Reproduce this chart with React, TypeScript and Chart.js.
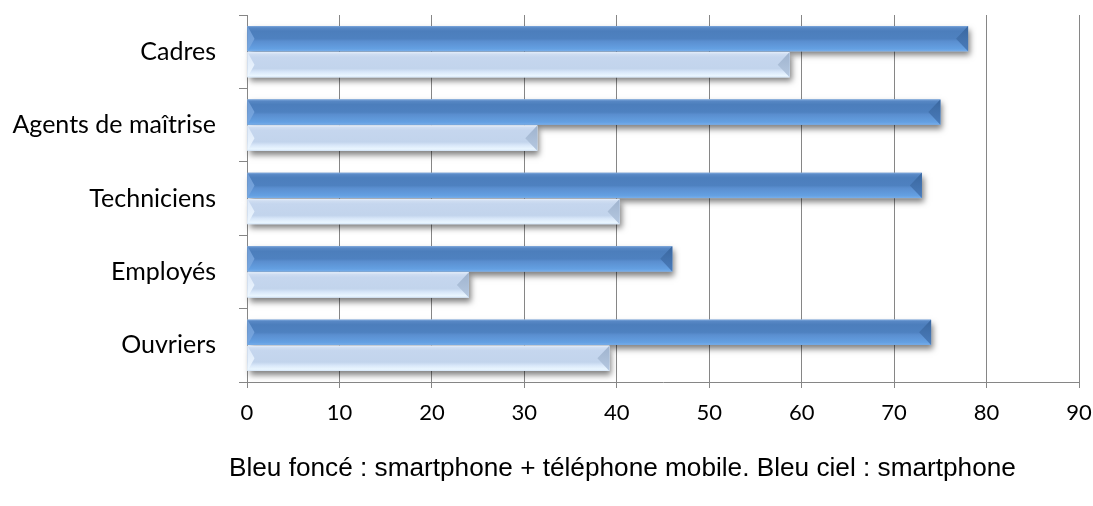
import React, { useEffect, useRef } from "react";
import { Chart, registerables } from "chart.js";

Chart.register(...registerables);

const categories = ["Cadres", "Agents de maîtrise", "Techniciens", "Employés", "Ouvriers"];
const smartphoneAndMobile = [78, 75, 73, 46, 74];
const smartphoneOnly = [58.7, 31.4, 40.3, 24, 39.2];
const xMin = 0;
const xMax = 90;
const xStep = 10;
const footnote = "Bleu foncé : smartphone + téléphone mobile. Bleu ciel : smartphone";

type BarStyle = {
  stops: [number, string][];
  endTop: string;
  endBottom: string;
  startTop: string;
  startBottom: string;
};

const barStyles: BarStyle[] = [
  {
    stops: [
      [0, "#7EA8DD"],
      [0.07, "#5787C4"],
      [0.2, "#4C7EBC"],
      [0.5, "#4E81C0"],
      [0.6, "#5A8ECF"],
      [0.9, "#64A0E2"],
      [1, "#78AEEA"],
    ],
    endTop: "#3A679F",
    endBottom: "#4A7CBB",
    startTop: "#6F9BD3",
    startBottom: "#78A8E2",
  },
  {
    stops: [
      [0, "#E6EFFB"],
      [0.08, "#CFDDF1"],
      [0.2, "#C5D6EE"],
      [0.65, "#C2D4EC"],
      [0.78, "#D8E7F9"],
      [0.93, "#EAF6FF"],
      [1, "#D5E6F8"],
    ],
    endTop: "#9FB3CE",
    endBottom: "#B5C8E0",
    startTop: "#DCE8F8",
    startBottom: "#EEF7FF",
  },
];

const shadowPlugin = {
  id: "barShadow",
  beforeDatasetsDraw(chart: any) {
    const ctx = chart.ctx as CanvasRenderingContext2D;
    ctx.save();
    chart.data.datasets.forEach((_: any, di: number) => {
      const meta = chart.getDatasetMeta(di);
      meta.data.forEach((el: any) => {
        const p = el.getProps(["x", "y", "base", "height"], true);
        const left = Math.min(p.x, p.base);
        const right = Math.max(p.x, p.base);
        const top = p.y - p.height / 2;
        ctx.shadowColor = "rgba(0,0,0,0.5)";
        ctx.shadowBlur = 6;
        ctx.shadowOffsetX = 2;
        ctx.shadowOffsetY = 4;
        ctx.fillStyle = "#ffffff";
        ctx.fillRect(left, top, right - left, p.height);
      });
    });
    ctx.restore();
  },
  afterDatasetsDraw(chart: any) {
    const ctx = chart.ctx as CanvasRenderingContext2D;
    ctx.save();
    chart.data.datasets.forEach((_: any, di: number) => {
      const st = barStyles[di];
      const meta = chart.getDatasetMeta(di);
      meta.data.forEach((el: any) => {
        const p = el.getProps(["x", "y", "base", "height"], true);
        const left = Math.min(p.x, p.base);
        const right = Math.max(p.x, p.base);
        const top = p.y - p.height / 2;
        const bottom = p.y + p.height / 2;
        const mid = p.y;
        const g = ctx.createLinearGradient(0, top, 0, bottom);
        st.stops.forEach(([o, c]) => g.addColorStop(o, c));
        ctx.fillStyle = g;
        ctx.fillRect(left, top, right - left, bottom - top);

        const b = 12;
        const ge = ctx.createLinearGradient(0, top, 0, bottom);
        ge.addColorStop(0, st.endTop);
        ge.addColorStop(1, st.endBottom);
        ctx.fillStyle = ge;
        ctx.beginPath();
        ctx.moveTo(right, top);
        ctx.lineTo(right - b, mid);
        ctx.lineTo(right, bottom);
        ctx.closePath();
        ctx.fill();

        const gs = ctx.createLinearGradient(0, top, 0, bottom);
        gs.addColorStop(0, st.startTop);
        gs.addColorStop(1, st.startBottom);
        ctx.fillStyle = gs;
        ctx.beginPath();
        ctx.moveTo(left, top);
        ctx.lineTo(left + 7, mid);
        ctx.lineTo(left, bottom);
        ctx.closePath();
        ctx.fill();
      });
    });
    ctx.restore();
  },
};

export default function App() {
  const canvasRef = useRef<HTMLCanvasElement | null>(null);

  useEffect(() => {
    document.body.style.margin = "0";
    const canvas = canvasRef.current;
    if (!canvas) return;
    const chart = new Chart(canvas, {
      type: "bar",
      data: {
        labels: categories,
        datasets: [
          {
            label: "Smartphone + téléphone mobile",
            data: smartphoneAndMobile,
            backgroundColor: "#4F81BD",
            borderWidth: 0,
            categoryPercentage: 0.71,
            barPercentage: 0.97,
          },
          {
            label: "Smartphone",
            data: smartphoneOnly,
            backgroundColor: "#C6D9F1",
            borderWidth: 0,
            categoryPercentage: 0.71,
            barPercentage: 0.97,
          },
        ],
      },
      options: {
        indexAxis: "y",
        responsive: false,
        animation: false,
        events: [],
        layout: { padding: { top: 15, right: 14, left: 0, bottom: 0 } },
        plugins: {
          legend: { display: false },
          title: { display: false },
          tooltip: { enabled: false },
        },
        scales: {
          x: {
            min: xMin,
            max: xMax,
            ticks: {
              stepSize: xStep,
              color: "#000000",
              padding: 12,
              font: { family: "Lato", size: 22 },
            },
            grid: {
              color: "#868686",
              lineWidth: 1,
              drawTicks: true,
              tickLength: 6,
            },
            border: { color: "#868686", width: 1 },
            afterFit(scale: any) {
              scale.height = 124;
              scale.paddingLeft = 0;
              scale.paddingRight = 0;
            },
          },
          y: {
            ticks: {
              color: "#000000",
              padding: 23,
              font: { family: "Lato", size: 25 },
            },
            grid: {
              offset: true,
              drawOnChartArea: false,
              drawTicks: true,
              tickLength: 8,
              color: "#868686",
            },
            border: { color: "#868686", width: 1 },
            afterFit(scale: any) {
              scale.width = 247;
              scale.paddingTop = 0;
              scale.paddingBottom = 0;
            },
          },
        },
      },
      plugins: [shadowPlugin],
    });
    return () => chart.destroy();
  }, []);

  return (
    <div style={{ position: "fixed", left: 0, top: 0, width: 1093, height: 506, background: "#ffffff" }}>
      <canvas ref={canvasRef} width={1093} height={506} style={{ display: "block" }} />
      <div
        style={{
          position: "absolute",
          left: 229,
          top: 452,
          fontFamily: "'Liberation Sans', Arial, sans-serif",
          fontSize: 26.2,
          lineHeight: "30px",
          color: "#000000",
          whiteSpace: "nowrap",
        }}
      >
        {footnote}
      </div>
    </div>
  );
}
